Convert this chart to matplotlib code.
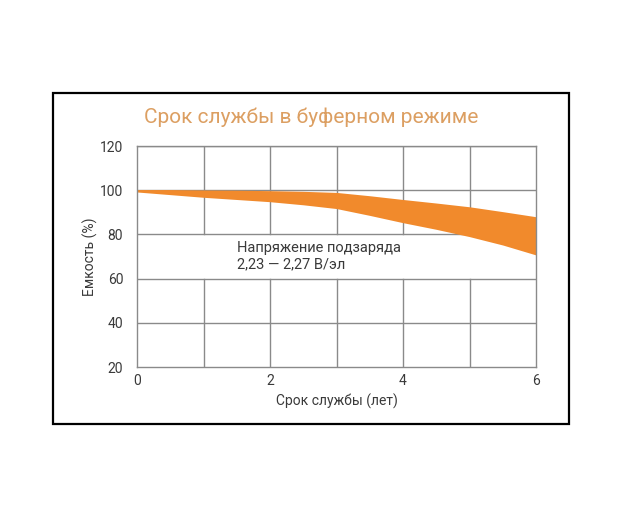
import numpy as np
import matplotlib.pyplot as plt
from matplotlib.patches import Rectangle

plt.rcParams['font.family'] = ['Roboto', 'DejaVu Sans']

# данные
years = [0, 0.5, 1, 1.5, 2, 2.5, 3, 3.5, 4, 4.5, 5, 5.5, 6]
cap_upper = [100.3, 100.3, 100.1, 100.0, 99.8, 99.5, 99.0, 97.5, 95.8, 94.2, 92.5, 90.3, 88.0]
cap_lower = [99.2, 98.0, 96.8, 95.8, 94.8, 93.4, 91.7, 88.6, 85.3, 82.3, 79.0, 75.2, 70.7]
x_ticks = [0, 2, 4, 6]
y_ticks = [20, 40, 60, 80, 100, 120]
grid_x = [1, 2, 3, 4, 5]
grid_y = [40, 60, 80, 100, 120]

title = 'Срок службы в буферном режиме'
note = 'Напряжение подзаряда\n2,23 — 2,27 В/эл'
grid_col = '#8a8a8a'
band_col = '#f18a2c'
txt_col = '#3a3a3a'

fig = plt.figure(figsize=(6.22, 5.18), dpi=100)
fig.patches.append(Rectangle((0.0852, 0.1815), 0.8296, 0.639, transform=fig.transFigure,
                             fill=False, edgecolor='black', linewidth=1.6))
fig.text(0.5, 0.773, title, ha='center', va='center', fontsize=15, color='#dc9f62')

ax = fig.add_axes([0.2203, 0.2915, 0.6415, 0.4266])
ax.set_xlim(0, 6)
ax.set_ylim(20, 120)

# сетка: вертикальные линии с разрывом между 60 и 80
for gx in grid_x:
    ax.plot([gx, gx], [80, 120], color=grid_col, lw=1, zorder=1)
    ax.plot([gx, gx], [20, 60], color=grid_col, lw=1, zorder=1)
for gy in grid_y:
    ax.axhline(gy, color=grid_col, lw=1, zorder=1)

ax.fill_between(years, cap_lower, cap_upper, color=band_col, lw=0, zorder=2)

ax.text(1.5, 70.2, note, fontsize=10.5, color=txt_col, va='center', linespacing=1.25)

for s in ax.spines.values():
    s.set_color(grid_col)
    s.set_linewidth(1)

ax.set_xticks(x_ticks)
ax.set_yticks(y_ticks)
ax.tick_params(length=0, labelsize=10, colors=txt_col)
ax.tick_params(axis='x', pad=5)
ax.tick_params(axis='y', pad=10)
ax.set_xlabel('Срок службы (лет)', fontsize=10, color=txt_col, labelpad=4)
ax.set_ylabel('Емкость (%)', fontsize=10, color=txt_col, labelpad=1)

fig.savefig('out.png', dpi=100)
